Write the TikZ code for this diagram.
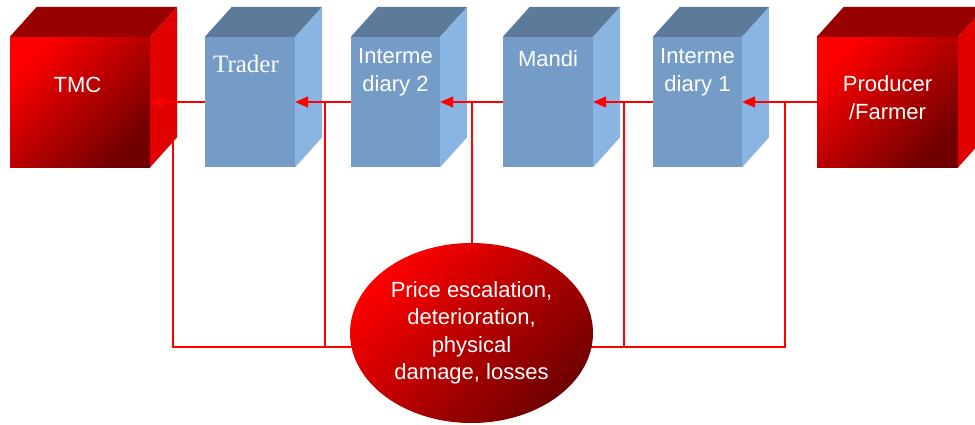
\documentclass[tikz,border=0pt]{standalone}
\usepackage{fontspec}
\setmainfont{Liberation Sans}
\newfontfamily\serifface{Liberation Serif}
\usetikzlibrary{arrows.meta,shapes.geometric,calc}

\definecolor{redbright}{RGB}{255,0,0}
\definecolor{reddark}{RGB}{112,0,0}
\definecolor{redtop}{RGB}{153,0,0}
\definecolor{redside}{RGB}{225,0,0}
\definecolor{bluefront}{RGB}{116,156,198}
\definecolor{bluetop}{RGB}{92,122,154}
\definecolor{blueside}{RGB}{138,180,226}
\definecolor{linkred}{RGB}{255,0,0}

% top and right faces of a box whose front face is node #1
\newcommand\cubesides[3]{%
  \fill[#2] (#1.north west) -- ++(27,-30) -- ($(#1.north east)+(27,-30)$) -- (#1.north east) -- cycle;
  \fill[#3] (#1.north east) -- ++(27,-30) -- ($(#1.south east)+(27,-30)$) -- (#1.south east) -- cycle;}

\begin{document}
\begin{tikzpicture}[x=1pt,y=-1pt,
  front/.style={rectangle, minimum height=130pt, inner sep=0pt},
  redbox/.style={front, top color=redbright, bottom color=reddark, shading angle=45},
  bluebox/.style={front, fill=bluefront},
  txt/.style={text=white, font=\fontsize{22}{28}\selectfont, align=center, inner sep=0pt},
  link/.style={draw=linkred, line width=1.5pt},
  arr/.style={link, -{Triangle[length=13pt,width=11pt]}}]
\useasboundingbox (0,0) rectangle (975,424);
\clip (0,0) rectangle (975,424);

% junctions of the feedback lines
\coordinate (j1) at (173,102);
\coordinate (j2) at (325,102);
\coordinate (j3) at (472,102);
\coordinate (j4) at (624,102);
\coordinate (j5) at (785,102);
\coordinate (c1) at (173,347);
\coordinate (c5) at (785,347);

% feedback lines, drawn first so boxes and the ellipse cover them
\draw[link] (j1) -- (c1) -- (c5) -- (j5);
\draw[link] (j2) -- (j2 |- c1);
\draw[link] (j3) -- (j3 |- c1);
\draw[link] (j4) -- (j4 |- c1);

% outcome
\node[ellipse, minimum width=243pt, minimum height=180pt, inner sep=0pt,
      top color=redbright, bottom color=reddark, shading angle=45,
      txt, font=\fontsize{22}{27.5}\selectfont] (ell) at (471.5,333)
  {Price escalation,\\deterioration,\\physical\\damage, losses};

% front faces of the chain
\node[redbox, minimum width=140pt] (tmc) at (80,102) {};
\node[bluebox, minimum width=90pt] (trader) at (250,102) {};
\node[bluebox, minimum width=89pt] (im2) at (395.5,102) {};
\node[bluebox, minimum width=90pt] (mandi) at (548,102) {};
\node[bluebox, minimum width=89pt] (im1) at (697.5,102) {};
\node[redbox, minimum width=141pt] (prod) at (887.5,102) {};

\cubesides{tmc}{redtop}{redside}
\cubesides{trader}{bluetop}{blueside}
\cubesides{im2}{bluetop}{blueside}
\cubesides{mandi}{bluetop}{blueside}
\cubesides{im1}{bluetop}{blueside}
\cubesides{prod}{redtop}{redside}

% labels
\node[txt] (tmc-t) at (77.5,85) {TMC};
\node[txt, font=\serifface\fontsize{25}{30}\selectfont] (trader-t) at (246,64) {Trader};
\node[txt] (im2-t) at (395.5,72) {Interme\\diary 2};
\node[txt] (mandi-t) at (548,59) {Mandi};
\node[txt] (im1-t) at (697.5,72) {Interme\\diary 1};
\node[txt] (prod-t) at (887.5,98) {Producer\\/Farmer};

% flow along the chain
\draw[arr] (trader.west) -- (tmc.east);
\draw[arr] (im2.west) -- (trader.east);
\draw[arr] (mandi.west) -- (im2.east);
\draw[arr] (im1.west) -- (mandi.east);
\draw[arr] (prod.west) -- (im1.east);
\end{tikzpicture}
\end{document}
